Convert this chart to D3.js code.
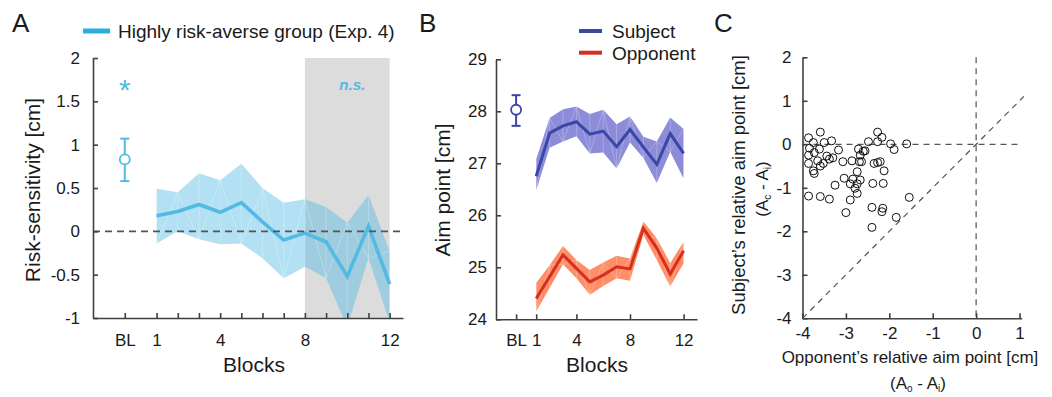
<!DOCTYPE html>
<html>
<head>
<meta charset="utf-8">
<script src="https://cdn.jsdelivr.net/npm/d3@7"></script>
<style>
  html, body { margin: 0; padding: 0; background: #fff; }
  svg { display: block; font-family: "Liberation Sans", Arial, Helvetica, sans-serif; }
  .axis path, .axis line { stroke: #404040; stroke-width: 1.6; }
  .axis text { fill: #1a1a1a; font-size: 17px; }
</style>
</head>
<body>
<svg id="fig" width="1052" height="397"></svg>
<script>
// ---------- data ----------
const blocks = [1, 2, 3, 4, 5, 6, 7, 8, 9, 10, 11, 12];
const blPos = -0.5;                 // baseline marker sits left of block 1
const blLabel = "BL";

// Panel A: risk-sensitivity of the highly risk-averse group
const riskMean  = [0.18, 0.23, 0.31, 0.22, 0.33, 0.11, -0.10, -0.02, -0.12, -0.52, 0.06, -0.61];
const riskUpper = [0.49, 0.45, 0.67, 0.59, 0.78, 0.50, 0.33, 0.37, 0.28, 0.10, 0.42, -0.23];
const riskLower = [-0.14, 0.00, -0.09, -0.15, -0.14, -0.31, -0.54, -0.41, -0.54, -1.10, -0.31, -1.05];
const riskBL = 0.83, riskBLlo = 0.58, riskBLhi = 1.07;
const riskYTicks = [-1, -0.5, 0, 0.5, 1, 1.5, 2];
const nsBlocks = [8, 12];

// Panel B: aim points
const subjMean  = [26.75, 27.58, 27.72, 27.80, 27.56, 27.62, 27.32, 27.65, 27.31, 26.98, 27.57, 27.19];
const subjUpper = [27.08, 27.87, 28.04, 28.09, 27.95, 28.03, 27.75, 27.90, 27.51, 27.42, 27.88, 27.66];
const subjLower = [26.48, 27.30, 27.42, 27.52, 27.19, 27.21, 26.90, 27.40, 27.10, 26.62, 27.22, 26.71];
const subjBL = 28.03, subjBLlo = 27.72, subjBLhi = 28.31;
const oppMean  = [24.40, 24.82, 25.24, 24.98, 24.72, 24.85, 25.01, 24.97, 25.75, 25.37, 24.87, 25.32];
const oppUpper = [24.70, 25.04, 25.41, 25.14, 24.95, 25.09, 25.22, 25.17, 25.88, 25.56, 25.08, 25.49];
const oppLower = [24.15, 24.60, 25.06, 24.79, 24.47, 24.64, 24.79, 24.74, 25.62, 25.14, 24.63, 25.08];
const aimYTicks = [24, 25, 26, 27, 28, 29];
const blockLabels = [1, 4, 8, 12];

// Panel C: relative aim points per participant [opponent, subject]
const relX = [-3.86, -3.59, -3.75, -3.50, -3.33, -3.84, -3.73, -3.61, -3.86, -3.65, -3.44, -3.38, -3.30, -3.17,
  -3.86, -3.59, -3.75, -3.73, -3.52, -3.07, -3.04, -2.86, -2.71, -2.67, -2.69, -2.56, -2.74, -2.84, -2.67,
  -2.90, -2.74, -2.79, -2.74, -2.90, -3.25, -3.86, -3.59, -3.38, -3.00, -2.48, -2.27, -2.27, -2.17, -1.97,
  -1.89, -1.60, -2.27, -2.21, -2.35, -2.12, -2.38, -2.14, -2.40, -2.15, -2.17, -1.54, -1.84, -2.40, -2.60, -2.64];
const relY = [0.15, 0.28, 0.04, 0.04, 0.08, -0.09, -0.19, -0.11, -0.25, -0.38, -0.27, -0.34, -0.31, -0.13,
  -0.44, -0.50, -0.61, -0.67, -0.44, -0.40, -0.78, -0.38, -0.11, -0.25, -0.40, -0.15, -0.63, -0.80, -0.82,
  -0.91, -0.91, -1.01, -1.13, -1.28, -0.94, -1.19, -1.20, -1.26, -1.57, 0.06, 0.28, 0.06, 0.16, 0.01,
  -0.12, 0.01, -0.42, -0.40, -0.44, -0.61, -0.90, -0.90, -1.45, -1.47, -1.55, -1.22, -1.68, -1.91, -0.16, -0.40];
const relXTicks = [-4, -3, -2, -1, 0, 1];
const relYTicks = [-4, -3, -2, -1, 0, 1, 2];

// ---------- colours ----------
const cA = "#52bae3", cALegend = "#2caee0";
const cSubj = "#3a47a6", cSubjBand = "#8c8cd9";
const cOpp = "#d4301f", cOppBand = "#ff8d68";

const svg = d3.select("#fig");
const num = d => String(d);
const fmt = d => (d === blPos ? blLabel : (blockLabels.includes(d) ? String(d) : ""));

function bandArea(x, y, upper, lower) {
  return d3.area().x((d, i) => x(blocks[i])).y0((d, i) => y(lower[i])).y1((d, i) => y(upper[i]))(blocks);
}
// faint seams across the shaded band
function bandSeams(g, x, y, upper, lower) {
  const segs = [];
  blocks.forEach((b, i) => {
    segs.push([[x(b), y(upper[i])], [x(b), y(lower[i])]]);
    if (i < blocks.length - 1) {
      if (i % 2 === 0) segs.push([[x(b), y(lower[i])], [x(blocks[i + 1]), y(upper[i + 1])]]);
      else segs.push([[x(b), y(upper[i])], [x(blocks[i + 1]), y(lower[i + 1])]]);
    }
  });
  g.selectAll(null).data(segs).join("line")
    .attr("x1", d => d[0][0]).attr("y1", d => d[0][1])
    .attr("x2", d => d[1][0]).attr("y2", d => d[1][1])
    .attr("stroke", "#fff").attr("stroke-opacity", 0.35).attr("stroke-width", 0.7);
}
function errBar(g, x, yLo, yHi, yMid, color) {
  g.append("line").attr("x1", x).attr("x2", x).attr("y1", yLo).attr("y2", yHi)
    .attr("stroke", color).attr("stroke-width", 2);
  [yLo, yHi].forEach(v => g.append("line").attr("x1", x - 4.5).attr("x2", x + 4.5).attr("y1", v).attr("y2", v)
    .attr("stroke", color).attr("stroke-width", 2));
  g.append("circle").attr("cx", x).attr("cy", yMid).attr("r", 5)
    .attr("fill", "#fff").attr("stroke", color).attr("stroke-width", 1.8);
}

// ================= Panel A =================
{
  const x = d3.scaleLinear().domain([-2, 12.63]).range([93, 403]);
  const y = d3.scaleLinear().domain([-1, 2]).range([318, 58]);
  const g = svg.append("g");

  svg.append("defs").append("clipPath").attr("id", "clipA")
    .append("rect").attr("x", 93).attr("y", 58).attr("width", 310).attr("height", 260);

  g.append("rect").attr("x", x(nsBlocks[0])).attr("y", y(2))
    .attr("width", x(nsBlocks[1]) - x(nsBlocks[0])).attr("height", y(-1) - y(2))
    .attr("fill", "#dcdcdc");

  const plot = g.append("g").attr("clip-path", "url(#clipA)");
  plot.append("path").attr("d", bandArea(x, y, riskUpper, riskLower))
    .attr("fill", cA).attr("fill-opacity", 0.44);
  bandSeams(plot.append("g"), x, y, riskUpper, riskLower);

  g.append("line").attr("x1", x(-2)).attr("x2", 403).attr("y1", y(0)).attr("y2", y(0))
    .attr("stroke", "#555").attr("stroke-width", 1.6).attr("stroke-dasharray", "7,5");

  plot.append("path").datum(riskMean)
    .attr("d", d3.line().x((d, i) => x(blocks[i])).y(d => y(d)))
    .attr("fill", "none").attr("stroke", cA).attr("stroke-width", 3.6).attr("stroke-linejoin", "miter");

  errBar(g, x(blPos), y(riskBLlo), y(riskBLhi), y(riskBL), cA);

  g.append("text").attr("x", x(blPos)).attr("y", 100).attr("text-anchor", "middle")
    .attr("fill", cA).attr("font-size", 30).text("*");
  g.append("text").attr("x", (x(nsBlocks[0]) + x(nsBlocks[1])) / 2 + 5).attr("y", 90).attr("text-anchor", "middle")
    .attr("fill", cA).attr("font-size", 15).attr("font-style", "italic").attr("font-weight", "bold").text("n.s.");

  g.append("g").attr("class", "axis").attr("transform", "translate(93,0)")
    .call(d3.axisLeft(y).tickValues(riskYTicks).tickSizeInner(-5).tickSizeOuter(0).tickPadding(13)
      .tickFormat(num));
  g.append("g").attr("class", "axis").attr("transform", "translate(0,318)")
    .call(d3.axisBottom(x).tickValues([blPos].concat(blocks)).tickSizeInner(-5).tickSizeOuter(0).tickPadding(16)
      .tickFormat(fmt));

  g.append("text").attr("x", 254).attr("y", 372).attr("text-anchor", "middle").attr("font-size", 21)
    .attr("fill", "#1a1a1a").text("Blocks");
  g.append("text").attr("transform", "translate(40,190) rotate(-90)").attr("text-anchor", "middle")
    .attr("font-size", 21).attr("fill", "#1a1a1a").text("Risk-sensitivity [cm]");

  g.append("line").attr("x1", 83).attr("x2", 110).attr("y1", 31).attr("y2", 31)
    .attr("stroke", cALegend).attr("stroke-width", 5);
  g.append("text").attr("x", 118).attr("y", 38).attr("font-size", 19).attr("fill", "#1a1a1a")
    .text("Highly risk-averse group (Exp. 4)");
  g.append("text").attr("x", 12).attr("y", 32).attr("font-size", 26).attr("fill", "#1a1a1a").text("A");
}

// ================= Panel B =================
{
  const x = d3.scaleLinear().domain([-2, 13]).range([496, 697]);
  const y = d3.scaleLinear().domain([24, 29]).range([319.3, 59.3]);
  const g = svg.append("g");

  [[subjUpper, subjLower, cSubjBand], [oppUpper, oppLower, cOppBand]].forEach(([u, l, c]) => {
    g.append("path").attr("d", bandArea(x, y, u, l)).attr("fill", c);
    bandSeams(g.append("g"), x, y, u, l);
  });
  [[subjMean, cSubj], [oppMean, cOpp]].forEach(([m, c]) => {
    g.append("path").datum(m)
      .attr("d", d3.line().x((d, i) => x(blocks[i])).y(d => y(d)))
      .attr("fill", "none").attr("stroke", c).attr("stroke-width", 3);
  });

  errBar(g, x(blPos), y(subjBLlo), y(subjBLhi), y(subjBL), cSubj);

  g.append("g").attr("class", "axis").attr("transform", "translate(496,0)")
    .call(d3.axisLeft(y).tickValues(aimYTicks).tickSizeInner(-5).tickSizeOuter(0).tickPadding(9)
      .tickFormat(num));
  g.append("g").attr("class", "axis").attr("transform", "translate(0,319.3)")
    .call(d3.axisBottom(x).tickValues([blPos].concat(blockLabels)).tickSizeInner(-5).tickSizeOuter(0)
      .tickPadding(15).tickFormat(fmt));

  g.append("text").attr("x", 597).attr("y", 372).attr("text-anchor", "middle").attr("font-size", 21)
    .attr("fill", "#1a1a1a").text("Blocks");
  g.append("text").attr("transform", "translate(450,190) rotate(-90)").attr("text-anchor", "middle")
    .attr("font-size", 21).attr("fill", "#1a1a1a").text("Aim point [cm]");

  [["Subject", cSubj, 31], ["Opponent", cOpp, 52.7]].forEach(([t, c, ly]) => {
    g.append("line").attr("x1", 579).attr("x2", 602).attr("y1", ly).attr("y2", ly)
      .attr("stroke", c).attr("stroke-width", 4);
    g.append("text").attr("x", 612).attr("y", ly + 7).attr("font-size", 19).attr("fill", "#1a1a1a").text(t);
  });
  g.append("text").attr("x", 419).attr("y", 32).attr("font-size", 26).attr("fill", "#1a1a1a").text("B");
}

// ================= Panel C =================
{
  const x = d3.scaleLinear().domain([-4, 1.05]).range([802.5, 1021.7]);
  const y = d3.scaleLinear().domain([-4, 2]).range([318.3, 57.3]);
  const g = svg.append("g");
  const dash = { stroke: "#555", w: 1.2, a: "6,5" };

  g.append("line").attr("x1", x(0)).attr("x2", x(0)).attr("y1", y(2)).attr("y2", y(-4))
    .attr("stroke", dash.stroke).attr("stroke-width", dash.w).attr("stroke-dasharray", dash.a);
  g.append("line").attr("x1", x(-4)).attr("x2", x(1.05)).attr("y1", y(0)).attr("y2", y(0))
    .attr("stroke", dash.stroke).attr("stroke-width", dash.w).attr("stroke-dasharray", dash.a);
  g.append("line").attr("x1", x(-4)).attr("x2", x(1.1)).attr("y1", y(-4)).attr("y2", y(1.1))
    .attr("stroke", dash.stroke).attr("stroke-width", dash.w).attr("stroke-dasharray", dash.a);

  g.append("g").selectAll("circle").data(relX).join("circle")
    .attr("cx", d => x(d)).attr("cy", (d, i) => y(relY[i])).attr("r", 4)
    .attr("fill", "none").attr("stroke", "#111").attr("stroke-width", 1);

  g.append("g").attr("class", "axis").attr("transform", "translate(802.5,0)")
    .call(d3.axisLeft(y).tickValues(relYTicks).tickSizeInner(-5).tickSizeOuter(0).tickPadding(11)
      .tickFormat(num));
  g.append("g").attr("class", "axis").attr("transform", "translate(0,318.3)")
    .call(d3.axisBottom(x).tickValues(relXTicks).tickSizeInner(-5).tickSizeOuter(0).tickPadding(9)
      .tickFormat(num));

  g.append("text").attr("x", 910).attr("y", 363).attr("text-anchor", "middle").attr("font-size", 17)
    .attr("fill", "#1a1a1a").text("Opponent\u2019s relative aim point [cm]");
  const xl2 = g.append("text").attr("x", 918).attr("y", 389).attr("text-anchor", "middle").attr("font-size", 17)
    .attr("fill", "#1a1a1a");
  xl2.append("tspan").text("(A");
  xl2.append("tspan").attr("font-size", 10).attr("dy", 3).text("o");
  xl2.append("tspan").attr("dy", -3).text(" - A");
  xl2.append("tspan").attr("font-size", 10).attr("dy", 3).text("i");
  xl2.append("tspan").attr("dy", -3).text(")");

  g.append("text").attr("transform", "translate(745,185) rotate(-90)").attr("text-anchor", "middle")
    .attr("font-size", 18.5).attr("fill", "#1a1a1a").text("Subject\u2019s relative aim point [cm]");
  const yl2 = g.append("text").attr("transform", "translate(768,189) rotate(-90)").attr("text-anchor", "middle")
    .attr("font-size", 17).attr("fill", "#1a1a1a");
  yl2.append("tspan").text("(A");
  yl2.append("tspan").attr("font-size", 10).attr("dy", 3).text("c");
  yl2.append("tspan").attr("dy", -3).text(" - A");
  yl2.append("tspan").attr("font-size", 10).attr("dy", 3).text("i");
  yl2.append("tspan").attr("dy", -3).text(")");

  g.append("text").attr("x", 714).attr("y", 32).attr("font-size", 26).attr("fill", "#1a1a1a").text("C");
}
</script>
</body>
</html>
